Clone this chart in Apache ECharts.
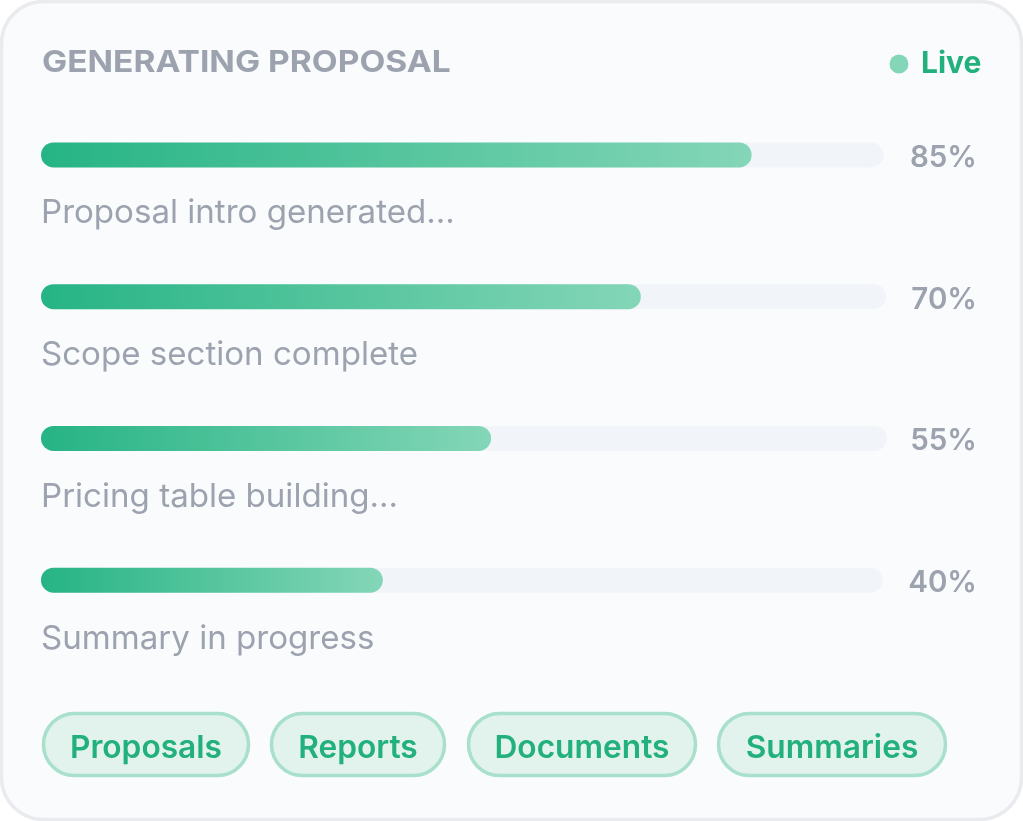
<!DOCTYPE html>
<html>
<head>
  <meta charset="utf-8">
  <script src="https://cdn.jsdelivr.net/npm/echarts@6/dist/echarts.min.js"></script>
  <style>
    html, body { margin: 0; padding: 0; background: #ffffff; }
  </style>
</head>
<body>
<div id="main" style="width:1023px;height:821px;"></div>

<script type="text/javascript">
// text
var captions = ['Proposal intro generated...', 'Scope section complete', 'Pricing table building...', 'Summary in progress'];
var percentLabels = ['85%', '70%', '55%', '40%'];
var tagNames = ['Proposals', 'Reports', 'Documents', 'Summaries'];

// bar ends as measured, the drawn bars do not sit exactly on their labels
var fillValues = [84.0, 70.9, 53.2, 40.4];
var trackValues = [99.6, 99.9, 100, 99.5];

var tagBoxes = [[42, 208], [270, 176], [467, 230], [717, 230]];

var GREY = '#9ca3af';
var GREEN = '#22b07d';
var FONT = 'Inter';

var tagGraphics = [];
tagNames.forEach(function (name, i) {
    var box = tagBoxes[i];
    tagGraphics.push({
        type: 'rect',
        shape: { x: box[0] + 1.5, y: 713.5, width: box[1] - 3, height: 62, r: [31, 31, 31, 31] },
        style: { fill: '#e2f3ed', stroke: '#a8e0cc', lineWidth: 3.5 }
    });
    tagGraphics.push({
        type: 'text',
        x: box[0] + box[1] / 2,
        y: 748,
        z: 2,
        style: { text: name, fill: GREEN, font: '600 31.7px ' + FONT, align: 'center', verticalAlign: 'middle' }
    });
});

var myChart = echarts.init(document.getElementById('main'));

myChart.setOption({
    animation: false,
    graphic: [
        {
            type: 'rect',
            z: -10,
            shape: { x: 1.5, y: 1.5, width: 1020, height: 818, r: 42 },
            style: { fill: '#fafbfd', stroke: '#e9ebef', lineWidth: 3.5 }
        },
        {
            type: 'text',
            x: 42, y: 63,
            scaleX: 1.118,
            style: { text: 'GENERATING PROPOSAL', fill: GREY, font: '700 30px ' + FONT, verticalAlign: 'middle' }
        },
        {
            type: 'circle',
            shape: { cx: 899, cy: 64, r: 9.5 },
            style: { fill: '#84d6b8' }
        },
        {
            type: 'text',
            x: 921, y: 64,
            style: { text: 'Live', fill: GREEN, font: '700 30px ' + FONT, verticalAlign: 'middle' }
        }
    ].concat(tagGraphics),
    grid: { left: 41, top: 84, width: 846, height: 567 },
    xAxis: { type: 'value', min: 0, max: 100, show: false },
    yAxis: {
        type: 'category',
        inverse: true,
        data: captions,
        axisLine: { show: false },
        axisTick: { show: false },
        axisLabel: { show: false }
    },
    series: [
        {
            name: 'track',
            type: 'bar',
            data: trackValues,
            barWidth: 25,
            barGap: '-100%',
            silent: true,
            itemStyle: { color: '#f1f5f9', borderRadius: 12.5 },
            label: {
                show: true,
                position: [936, 15.5],
                formatter: function (p) { return percentLabels[p.dataIndex]; },
                align: 'right',
                verticalAlign: 'middle',
                color: GREY,
                fontFamily: FONT,
                fontSize: 29.5,
                fontWeight: 600
            }
        },
        {
            name: 'progress',
            type: 'bar',
            data: fillValues,
            barWidth: 25,
            silent: true,
            itemStyle: {
                borderRadius: 12.5,
                color: new echarts.graphic.LinearGradient(0, 0, 1, 0, [
                    { offset: 0, color: '#26b484' },
                    { offset: 1, color: '#84d6b8' }
                ])
            },
            label: {
                show: true,
                position: [0, 51],
                formatter: function (p) { return captions[p.dataIndex]; },
                color: GREY,
                fontFamily: FONT,
                fontSize: 33.1,
                verticalAlign: 'top',
                lineHeight: 40
            }
        }
    ]
});
</script>
</body>
</html>
